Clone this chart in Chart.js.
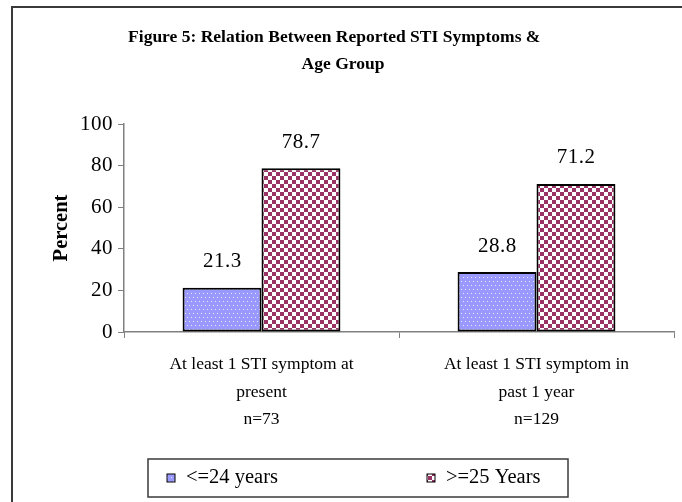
<!DOCTYPE html>
<html>
<head>
<meta charset="utf-8">
<script src="https://cdn.jsdelivr.net/npm/chart.js@4"></script>
<style>
  html, body { margin: 0; padding: 0; background: #fff; }
  #wrap { width: 682px; height: 502px; position: relative; }
</style>
</head>
<body>
<div id="wrap"><canvas id="stiChart"></canvas></div>
<script>
// chart data
const categories = [
    ['At least 1 STI symptom at', 'present', 'n=73'],
    ['At least 1 STI symptom in', 'past 1 year', 'n=129']
];
const seriesNames = ['<=24 years', '>=25 Years'];
const youngerValues = [21.3, 28.8];
const olderValues = [78.7, 71.2];
const yTicks = [0, 20, 40, 60, 80, 100];

const serif = '"Liberation Serif", "Times New Roman", serif';

// blue with small white dots
function dotPattern() {
    const c = document.createElement('canvas');
    c.width = 8; c.height = 8;
    const g = c.getContext('2d');
    g.fillStyle = '#9999ff';
    g.fillRect(0, 0, 8, 8);
    g.fillStyle = '#e8e8ff';
    [[1, 1], [5, 1], [3, 5], [7, 5]].forEach(p => g.fillRect(p[0], p[1], 1, 1));
    return g.createPattern(c, 'repeat');
}

// maroon / white checkerboard
function checkerPattern() {
    const c = document.createElement('canvas');
    c.width = 8; c.height = 8;
    const g = c.getContext('2d');
    g.fillStyle = '#ffffff';
    g.fillRect(0, 0, 8, 8);
    g.fillStyle = '#993366';
    g.fillRect(0, 0, 4, 4);
    g.fillRect(4, 4, 4, 4);
    return g.createPattern(c, 'repeat');
}

const frame = {
    id: 'frame',
    beforeDraw(chart) {
        const ctx = chart.ctx;
        ctx.save();
        ctx.fillStyle = '#fff';
        ctx.fillRect(0, 0, chart.width, chart.height);
        ctx.strokeStyle = '#3a3a3a';
        ctx.lineWidth = 2;
        ctx.beginPath();
        ctx.moveTo(12, chart.height);
        ctx.lineTo(12, 7);
        ctx.lineTo(chart.width, 7);
        ctx.stroke();
        ctx.restore();
    }
};

const valueLabels = {
    id: 'valueLabels',
    afterDatasetsDraw(chart) {
        const ctx = chart.ctx;
        ctx.save();
        ctx.font = '21px ' + serif;
        ctx.letterSpacing = '0.5px';
        ctx.fillStyle = '#000';
        ctx.textAlign = 'center';
        ctx.textBaseline = 'middle';
        chart.data.datasets.forEach((ds, i) => {
            chart.getDatasetMeta(i).data.forEach((bar, j) => {
                ctx.fillText(ds.data[j].toFixed(1), bar.x + 0.25, bar.y - 26);
            });
        });
        ctx.restore();
    }
};

const legendBox = {
    id: 'legendBox',
    afterDraw(chart) {
        const ctx = chart.ctx;
        const area = chart.chartArea;
        const x0 = area.left + 24, x1 = area.left + 444;
        const y0 = area.bottom + 127, y1 = area.bottom + 165;
        const midY = (y0 + y1) / 2;
        ctx.save();
        ctx.strokeStyle = '#3a3a3a';
        ctx.lineWidth = 1.5;
        ctx.strokeRect(x0, y0, x1 - x0, y1 - y0);
        ctx.font = '20.5px ' + serif;
        ctx.textBaseline = 'middle';
        const offsets = [19, 279];
        chart.data.datasets.forEach((ds, i) => {
            const sx = x0 + offsets[i];
            ctx.fillStyle = ds.backgroundColor;
            ctx.fillRect(sx, midY - 4, 8, 8);
            ctx.strokeStyle = '#000';
            ctx.lineWidth = 1;
            ctx.strokeRect(sx, midY - 4, 8, 8);
            ctx.fillStyle = '#000';
            ctx.fillText(ds.label, sx + 19, midY);
        });
        ctx.restore();
    }
};

// y tick numbers are a touch wider than plain Times in the original
function spacedLabels(scale) {
    if (scale._spaced) return;
    const draw = scale.drawLabels.bind(scale);
    scale.drawLabels = function(area) {
        const c = this.ctx;
        c.save();
        c.letterSpacing = '0.5px';
        draw(area);
        c.restore();
    };
    scale._spaced = true;
}

const ctx = document.getElementById('stiChart').getContext('2d');

new Chart(ctx, {
    type: 'bar',
    data: {
        labels: categories,
        datasets: [{
            label: seriesNames[0],
            data: youngerValues,
            backgroundColor: dotPattern(),
            borderColor: '#000',
            borderWidth: 2,
            borderSkipped: false
        }, {
            label: seriesNames[1],
            data: olderValues,
            backgroundColor: checkerPattern(),
            borderColor: '#000',
            borderWidth: 2,
            borderSkipped: false
        }]
    },
    options: {
        responsive: true,
        maintainAspectRatio: false,
        animation: false,
        devicePixelRatio: 1,
        layout: {
            padding: { top: 24, left: 12, right: 8, bottom: 0 }
        },
        datasets: {
            bar: {
                barPercentage: 1,
                categoryPercentage: 0.574
            }
        },
        scales: {
            x: {
                afterFit: function(scale) { scale.height = 170; },
                grid: {
                    drawOnChartArea: false,
                    offset: true,
                    tickLength: 6,
                    color: '#808080'
                },
                border: { color: '#808080', width: 1.5 },
                ticks: {
                    color: '#000',
                    padding: 13,
                    font: { family: serif, size: 17.5, lineHeight: 27.5 / 17.5 }
                }
            },
            y: {
                min: yTicks[0],
                max: yTicks[yTicks.length - 1],
                afterFit: function(scale) {
                    scale.width = 112;
                    spacedLabels(scale);
                },
                afterBuildTicks: function(scale) {
                    scale.ticks = yTicks.map(v => ({ value: v }));
                },
                grid: {
                    drawOnChartArea: false,
                    tickLength: 6,
                    color: '#808080'
                },
                border: { color: '#808080', width: 1.5 },
                ticks: {
                    color: '#000',
                    padding: 5,
                    font: { family: serif, size: 21 }
                },
                title: {
                    display: true,
                    text: 'Percent',
                    color: '#000',
                    padding: { top: 37, bottom: 0 },
                    font: { family: serif, size: 20.5, weight: 'bold' }
                }
            }
        },
        plugins: {
            legend: { display: false },
            tooltip: { enabled: false },
            title: {
                display: true,
                // trailing spaces as in the original, which pulls line one a little left
                text: ['Figure 5: Relation Between Reported STI Symptoms &    ', 'Age Group'],
                color: '#000',
                padding: { top: 0, bottom: 46 },
                font: { family: serif, size: 17.5, weight: 'bold', lineHeight: 27 / 17.5 }
            }
        }
    },
    plugins: [frame, valueLabels, legendBox]
});
</script>
</body>
</html>
